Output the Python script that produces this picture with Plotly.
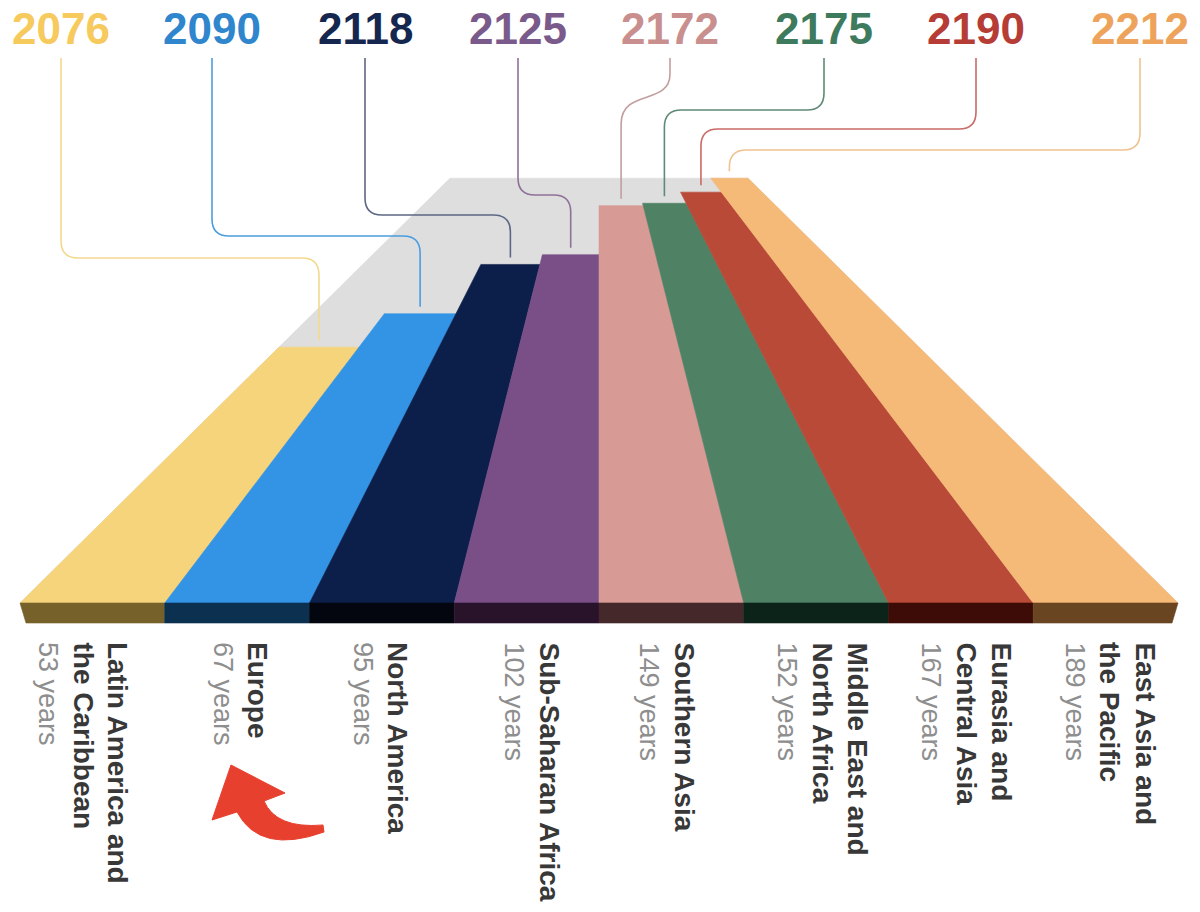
import plotly.graph_objects as go

# ---------------- data ----------------
regions = [
    ["Latin America and", "the Caribbean"],
    ["Europe"],
    ["North America"],
    ["Sub-Saharan Africa"],
    ["Southern Asia"],
    ["Middle East and", "North Africa"],
    ["Eurasia and", "Central Asia"],
    ["East Asia and", "the Pacific"],
]
years_to_parity = [53, 67, 95, 102, 149, 152, 167, 189]
parity_year = [2076, 2090, 2118, 2125, 2172, 2175, 2190, 2212]

# ---------------- styles ----------------
bar_colors = ["#f6d47b", "#3393e4", "#0c1e4a", "#7a4f88", "#d89a95", "#4f8264", "#b94a37", "#f5b978"]
face_colors = ["#77612a", "#0c3050", "#04060f", "#28132b", "#45282a", "#0c2319", "#3d0c07", "#6a4522"]
label_colors = ["#f6ca5c", "#2f86cc", "#15274f", "#7a5a8a", "#c98f8e", "#3e7a5d", "#b63c36", "#eda35c"]
line_colors = ["#f3d98e", "#4a9ee0", "#5d6784", "#8f7198", "#c29e9e", "#5f8a75", "#c96b66", "#efc28f"]
floor_color = "#dedede"

FONT = "Liberation Sans"
LABEL_X = [61, 212, 365, 518, 670, 824, 976, 1140]      # top year labels / connector start
ELBOW_Y = [258, 236, 215, 195, None, 110, 129, 150]      # connector horizontal level (None = S-curve)
ELBOW_R = 17
YEARS_TXT_X = [48, 223, 363, 514, 649, 787, 931, 1075]  # bottom "NN years" line centre
LINE_STEP = 35

# perspective floor geometry (pixels)
X0, X1, N = 20, 1178, len(years_to_parity)
W = (X1 - X0) / N
VX, VY, Y0, DEPTH = 599, 31, 603, 65.5
SLAB = 20


def proj(u, d):
    f = DEPTH / (DEPTH + d)
    xb = X0 + u * W
    return VX + (xb - VX) * f, VY + (Y0 - VY) * f


def poly(pts, color, lw=0.6):
    xs = [p[0] for p in pts] + [pts[0][0]]
    ys = [p[1] for p in pts] + [pts[0][1]]
    return go.Scatter(x=xs, y=ys, fill="toself", fillcolor=color, mode="lines",
                      line=dict(color=color, width=lw), hoverinfo="skip", showlegend=False)


fig = go.Figure()

# floor
dmax = max(years_to_parity)
fig.add_trace(poly([proj(0, 0), proj(N, 0), proj(N, dmax), proj(0, dmax)], floor_color))

# bars (strips on the floor, length = years to parity)
for k, d in enumerate(years_to_parity):
    fig.add_trace(poly([proj(k, 0), proj(k + 1, 0), proj(k + 1, d), proj(k, d)], bar_colors[k]))

# front slab
for k in range(N):
    xl, yt = proj(k, 0)
    xr, _ = proj(k + 1, 0)
    bl = xl + (6 if k == 0 else 0)
    br = xr - (6 if k == N - 1 else 0)
    fig.add_trace(poly([(xl, yt), (xr, yt), (br, yt + SLAB), (bl, yt + SLAB)], face_colors[k]))

shapes = []
annotations = []

# connectors + top labels
for k, d in enumerate(years_to_parity):
    x0, y0 = LABEL_X[k], 58
    x1, ytop = proj(k + 0.5, d)
    y1 = ytop - 7
    yh, r = ELBOW_Y[k], ELBOW_R
    if yh is None:
        path = (f"M {x0},{y0} L {x0},{y0 + 16} C {x0},{y0 + 48} {x1},{y0 + 30} {x1},{y0 + 66} "
                f"L {x1},{y1}")
    else:
        s = 1 if x1 > x0 else -1
        path = (f"M {x0},{y0} L {x0},{yh - r} Q {x0},{yh} {x0 + s * r},{yh} "
                f"L {x1 - s * r},{yh} Q {x1},{yh} {x1},{yh + r} L {x1},{y1}")
    shapes.append(dict(type="path", path=path, xref="x", yref="y",
                       line=dict(color=line_colors[k], width=1.6), layer="above"))
    annotations.append(dict(x=x0, y=28, xref="x", yref="y", text=str(parity_year[k]),
                            showarrow=False, xanchor="center", yanchor="middle",
                            font=dict(family=FONT, size=44, color=label_colors[k], weight="bold")))

# bottom labels (rotated)
for k, lines in enumerate(regions):
    n = len(lines)
    for j, t in enumerate(lines):
        annotations.append(dict(x=YEARS_TXT_X[k] + LINE_STEP * (n - j), y=640, xref="x", yref="y",
                                text=t, textangle=90, showarrow=False,
                                xanchor="center", yanchor="top",
                                font=dict(family=FONT, size=28, color="#383838", weight="bold")))
    annotations.append(dict(x=YEARS_TXT_X[k], y=640, xref="x", yref="y",
                            text=f"{years_to_parity[k]} years", textangle=90, showarrow=False,
                            xanchor="center", yanchor="top",
                            font=dict(family=FONT, size=27, color="#8e8e8e")))

# red curved arrow pointing at Europe
shapes.append(dict(type="path", xref="x", yref="y", layer="above",
                   path="M 231,765 L 285,793 L 264,801 Q 276,829 323,825 L 324,832 Q 260,855 237,812 L 212,820 Z",
                   fillcolor="#e8402f", line=dict(color="#e8402f", width=1)))

fig.update_layout(
    width=1200, height=912,
    margin=dict(l=0, r=0, t=0, b=0),
    paper_bgcolor="white", plot_bgcolor="white",
    xaxis=dict(range=[0, 1200], visible=False, fixedrange=True),
    yaxis=dict(range=[912, 0], visible=False, fixedrange=True),
    shapes=shapes, annotations=annotations,
    showlegend=False,
)

fig.write_html("out.html")
